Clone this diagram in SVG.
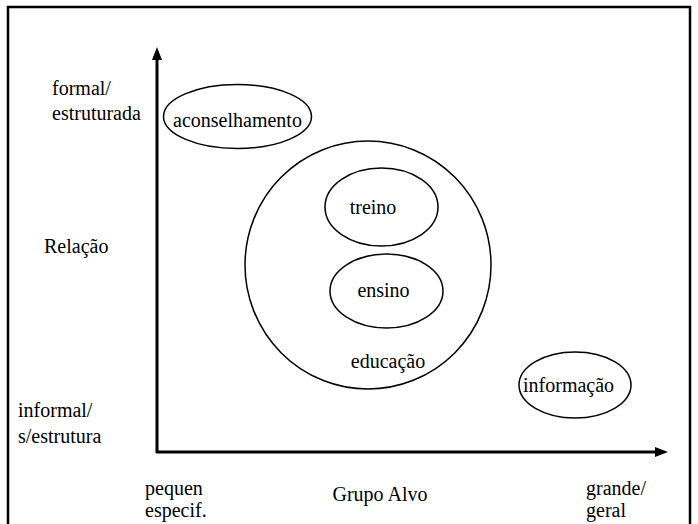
<svg xmlns="http://www.w3.org/2000/svg" width="698" height="524" viewBox="0 0 698 524">
<style>
.t{font-family:'Liberation Serif','Times New Roman',serif;font-size:20px;fill:#000}
.n ellipse{fill:none;stroke:#000;stroke-width:1.5}
.ax{stroke:#000;stroke-width:3;fill:none}
</style>
<rect x="8" y="7" width="682" height="530" fill="none" stroke="#000" stroke-width="2.5"/>
<g id="connectors">
<line class="ax" x1="157" y1="453" x2="157" y2="58"/>
<path d="M152,60 L157,47 L162,60 z" fill="#000"/>
<line class="ax" x1="156" y1="452" x2="656" y2="452"/>
<path d="M655,447 L668,452 L655,457 z" fill="#000"/>
</g>
<g id="labels">
<text class="t" x="52" y="95">formal/</text>
<text class="t" x="52" y="120">estruturada</text>
<text class="t" x="44" y="253">Relação</text>
<text class="t" x="380" y="501" text-anchor="middle">Grupo Alvo</text>
<text class="t" x="18" y="417">informal/</text>
<text class="t" x="18" y="443">s/estrutura</text>
<text class="t" x="145" y="495">pequen</text>
<text class="t" x="145" y="517">especif.</text>
<text class="t" x="586" y="495">grande/</text>
<text class="t" x="586" y="517">geral</text>
</g>
<g id="aconselhamento" class="n"><ellipse cx="237.5" cy="116.5" rx="74" ry="32"/><text class="t" x="237.5" y="127" text-anchor="middle">aconselhamento</text></g>
<g id="educacao" class="n"><ellipse cx="368" cy="265" rx="123" ry="124"/><text class="t" x="388" y="368" text-anchor="middle">educação</text></g>
<g id="treino" class="n"><ellipse cx="381.5" cy="207" rx="56.5" ry="39"/><text class="t" x="373" y="214" text-anchor="middle">treino</text></g>
<g id="ensino" class="n"><ellipse cx="386.5" cy="291" rx="56.5" ry="37"/><text class="t" x="383.5" y="297" text-anchor="middle">ensino</text></g>
<g id="informacao" class="n"><ellipse cx="575" cy="385" rx="56" ry="33"/><text class="t" x="523" y="392">informação</text></g>
</svg>
